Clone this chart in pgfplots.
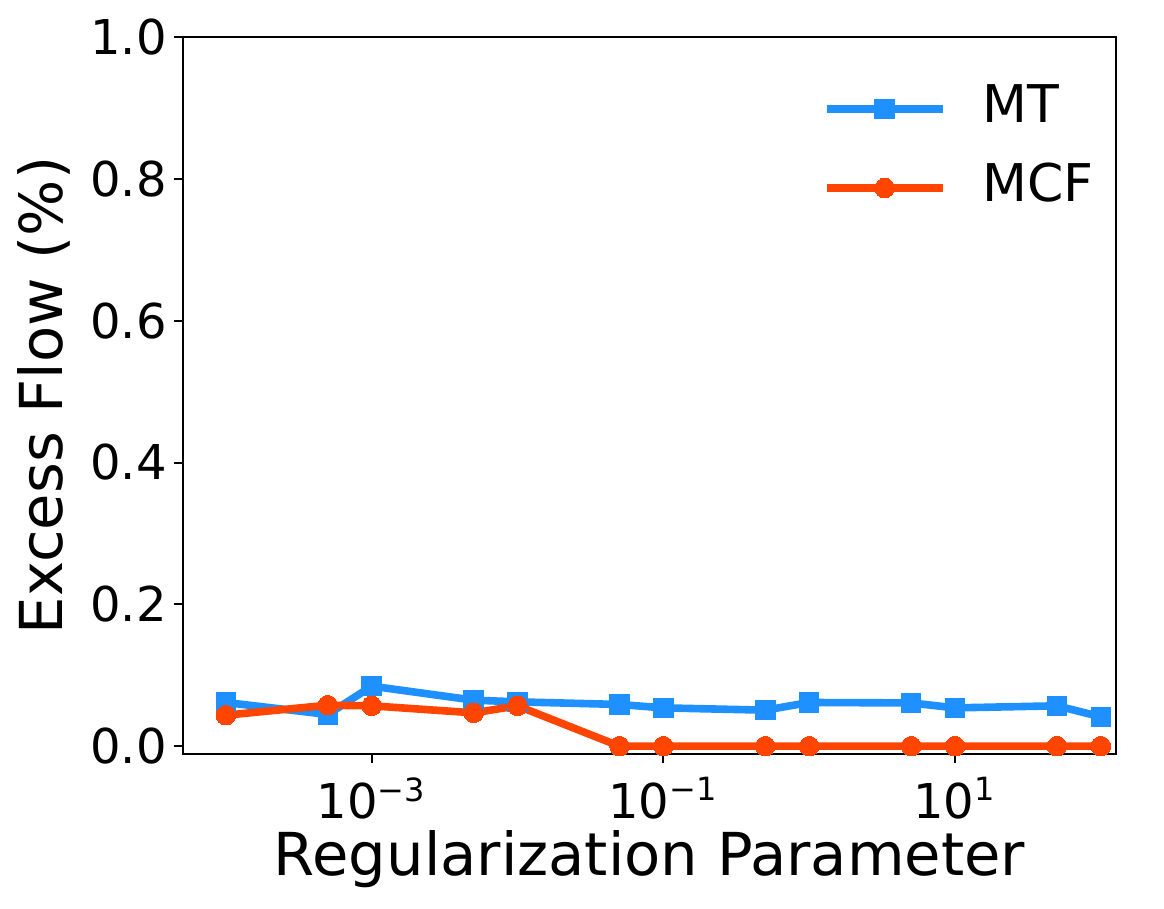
\documentclass[border=0pt]{standalone}
\usepackage{fontspec}
\setmainfont{DejaVu Sans}
\usepackage{pgfplots}
\pgfplotsset{compat=1.18}
\definecolor{mtblue}{RGB}{30,144,255}
\definecolor{mcfred}{RGB}{255,69,0}

\begin{document}
\begin{tikzpicture}
\begin{axis}[
  name=ax, scale only axis, width=233.25pt, height=179.25pt,
  xmode=log, log basis x=10,
  xmin=5.08e-5, xmax=127, ymin=-0.011, ymax=1.0,
  xtick={1e-3,1e-1,1e1},
  xticklabels={10\textsuperscript{−3},10\textsuperscript{−1},10\textsuperscript{1}},
  minor xtick={},
  ytick={0,0.2,0.4,0.6,0.8,1.0},
  /pgf/number format/assume math mode=true,
  yticklabel style={xshift=1.75pt, /pgf/number format/.cd, fixed, fixed zerofill, precision=1},
  tick align=outside, tick pos=left, major tick length=2.3pt,
  tick style={black, line width=0.5pt},
  axis line style={line width=0.5pt},
  tick label style={font=\fontsize{12}{14}\selectfont},
  label style={font=\fontsize{14.8}{17}\selectfont},
  xlabel={Regularization Parameter}, ylabel={Excess Flow (\%)},
  xlabel style={at={(rel axis cs:0.5,0)}, anchor=base, yshift=-30.5pt},
  ylabel style={at={(rel axis cs:0,0.5)}, anchor=base, yshift=30pt},
  legend style={at={(rel axis cs:0.685,0.937)}, anchor=north west, draw=none, fill=none,
    inner sep=0pt, font=\fontsize{13}{16}\selectfont, row sep=6.75pt, column sep=9pt,
    nodes={inner sep=0pt, text height=10pt, text depth=3pt}},
  legend cell align=left,
  legend image code/.code={\draw[mark repeat=2, mark phase=2]
    plot coordinates {(0pt,0pt) (14.5pt,0pt) (29pt,0pt)};},
]
\addplot[mtblue, line width=1.9pt, line join=round, mark=square*, mark size=2.45pt,
  mark options={solid, line width=0pt}] coordinates {
  (1e-4,0.0616) (5e-4,0.0447) (1e-3,0.0846) (5e-3,0.0649) (1e-2,0.0625)
  (5e-2,0.0588) (1e-1,0.054) (5e-1,0.0508) (1,0.0616) (5,0.061)
  (10,0.054) (50,0.0569) (100,0.0414)};
\addplot[mcfred, line width=1.9pt, line join=round, mark=*, mark size=2.45pt,
  mark options={solid, line width=0pt}] coordinates {
  (1e-4,0.0437) (5e-4,0.0578) (1e-3,0.0569) (5e-3,0.047) (1e-2,0.0569)
  (5e-2,0) (1e-1,0) (5e-1,0) (1,0) (5,0)
  (10,0) (50,0) (100,0)};
\legend{MT, MCF}
\end{axis}
\pgfresetboundingbox
\path[use as bounding box] ([xshift=-45.75pt,yshift=-38.75pt]ax.south west)
  rectangle ([xshift=12pt,yshift=9.25pt]ax.north east);
\end{tikzpicture}
\end{document}
